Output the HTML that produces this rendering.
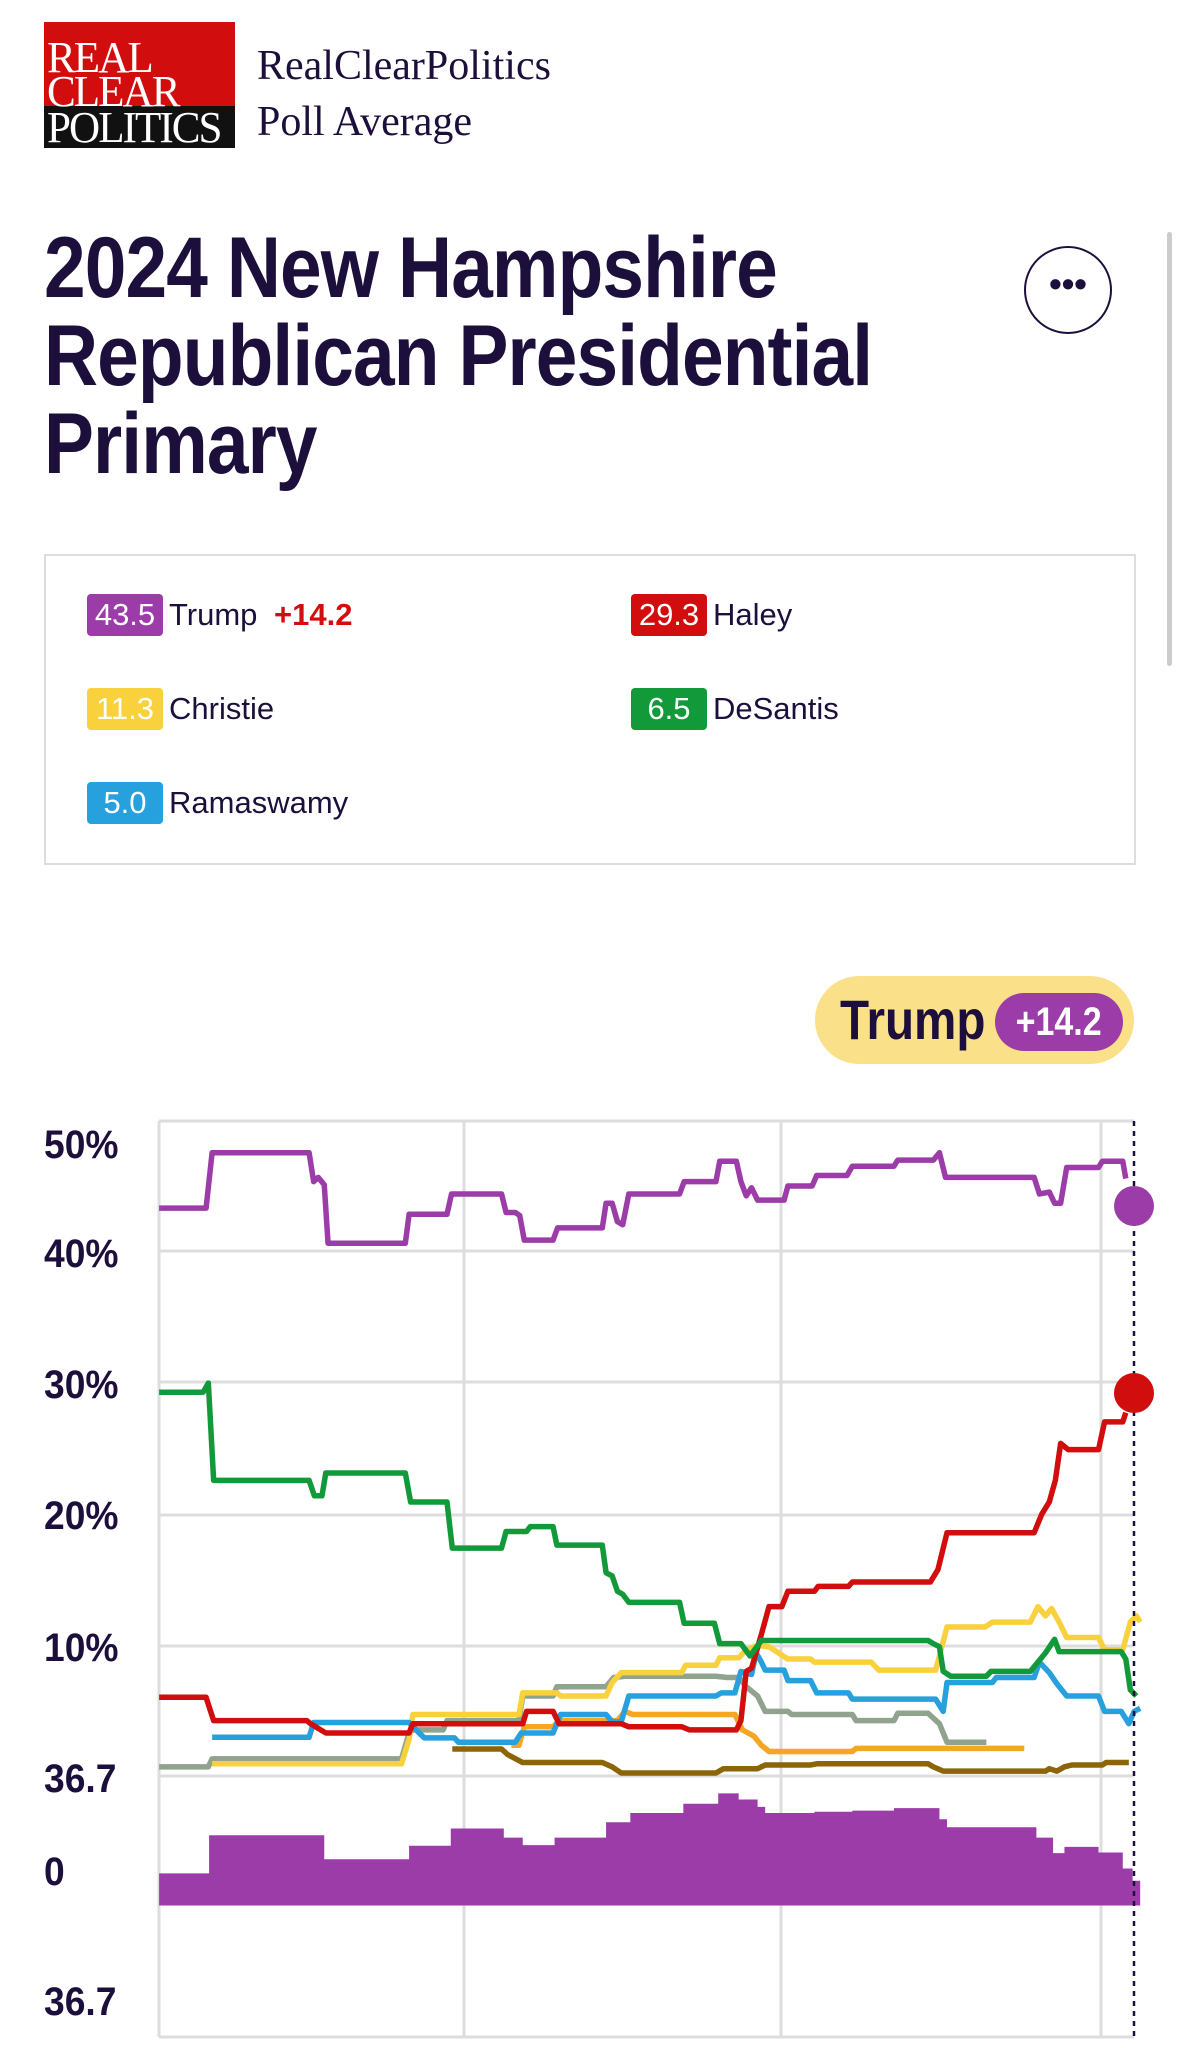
<!DOCTYPE html>
<html><head><meta charset="utf-8"><style>
body{margin:0;width:1182px;height:2048px;background:#fff;position:relative;overflow:hidden;font-family:"Liberation Sans",sans-serif;color:#1d0f3b}
.a{position:absolute;white-space:nowrap}
.logo{left:44px;top:22px;width:191px;height:126px;background:#d20d0d;overflow:hidden}
.logo .blk{position:absolute;left:0;bottom:0;width:191px;height:42px;background:#111}
.logo span{position:absolute;left:3px;font-family:"Liberation Serif",serif;font-size:44px;line-height:44px;letter-spacing:-2px;color:#fff;transform:scaleX(.98);transform-origin:left}
.serif{font-family:"Liberation Serif",serif;font-size:42px;color:#1d0f3b}
.title{left:44px;font-weight:bold;font-size:86px;line-height:88px;transform:scaleX(.87);transform-origin:left;letter-spacing:-1px}
.badge{position:absolute;height:42px;width:76px;border-radius:4px;color:#fff;font-size:31px;line-height:42px;text-align:center}
.lab{position:absolute;font-size:31px;line-height:42px}
.ax{position:absolute;left:44px;font-weight:bold;font-size:40px;transform:scaleX(.93);transform-origin:left;line-height:40px}
</style></head><body>
<div class="a logo"><div class="blk"></div><span style="top:14px">REAL</span><span style="top:48px">CLEAR</span><span style="top:84px">POLITICS</span></div>
<div class="a serif" style="left:257px;top:42px">RealClearPolitics</div>
<div class="a serif" style="left:257px;top:98px">Poll Average</div>
<div class="a title" style="top:224px">2024 New Hampshire</div>
<div class="a title" style="top:312px">Republican Presidential</div>
<div class="a title" style="top:400px">Primary</div>
<div class="a" style="left:1024px;top:246px;width:84px;height:84px;border:2px solid #1d0f3b;border-radius:50%;text-align:center;line-height:72px;font-size:36px;font-weight:bold">•••</div>
<div class="a" style="left:1167px;top:232px;width:5px;height:434px;background:#ccc;border-radius:3px"></div>
<div class="a" style="left:44px;top:554px;width:1088px;height:307px;border:2px solid #ddd"></div>
<div class="badge" style="left:87px;top:594px;background:#9b3ca8">43.5</div><div class="lab" style="left:169px;top:594px">Trump <b style="color:#d20d0d;margin-left:8px">+14.2</b></div>
<div class="badge" style="left:631px;top:594px;background:#d20d0d">29.3</div><div class="lab" style="left:713px;top:594px">Haley</div>
<div class="badge" style="left:87px;top:688px;background:#f9d13d">11.3</div><div class="lab" style="left:169px;top:688px">Christie</div>
<div class="badge" style="left:631px;top:688px;background:#129a3a">6.5</div><div class="lab" style="left:713px;top:688px">DeSantis</div>
<div class="badge" style="left:87px;top:782px;background:#27a0de">5.0</div><div class="lab" style="left:169px;top:782px">Ramaswamy</div>
<div class="a" style="left:815px;top:976px;width:319px;height:88px;border-radius:44px;background:#fbe08a"></div>
<div class="a" style="left:840px;top:990px;font-weight:bold;font-size:56px;line-height:60px;transform:scaleX(.85);transform-origin:left">Trump</div>
<div class="a" style="left:995px;top:993px;width:128px;height:58px;border-radius:29px;background:#9b3ca8;color:#fff;font-weight:bold;font-size:40px;line-height:58px;text-align:center"><span style="display:inline-block;transform:scaleX(.85)">+14.2</span></div>
<div class="ax" style="top:1125px">50%</div>
<div class="ax" style="top:1234px">40%</div>
<div class="ax" style="top:1365px">30%</div>
<div class="ax" style="top:1496px">20%</div>
<div class="ax" style="top:1628px">10%</div>
<div class="ax" style="top:1759px">36.7</div>
<div class="ax" style="top:1852px">0</div>
<div class="ax" style="top:1982px">36.7</div>
<svg class="a" style="left:0;top:0" width="1182" height="2048">
<g stroke="#ddd" stroke-width="3" fill="none">
<path d="M159 1121H1134M159 1251H1134M159 1382H1134M159 1515H1134M159 1646H1134M159 1776H1134M159 2037H1134M159 1121V2037M464 1121V2037M781 1121V2037M1101 1121V2037"/>
</g>
<g transform="matrix(0.7576,0,0,0.616,0,1080)" fill="none" stroke-width="5.5" stroke-linejoin="round">
<path fill="#9b3ca8" stroke="none" d="M210,1340V1288H276V1226H428V1265H540V1243H595V1215H665V1230H690V1242H732V1230H800V1205H832V1190H902V1175H948V1158H975V1168H1000V1180H1010V1190H1075V1188H1125V1186H1180V1182H1240V1200H1250V1213H1368V1230H1390V1255H1405V1245H1450V1254H1482V1280H1495V1300H1505V1340Z"/>
<path vector-effect="non-scaling-stroke" stroke="#8b6508" d="M597,1086 H662 L670,1095 L690,1108 H795 L808,1115 L820,1125 H945 L955,1118 H1000 L1010,1112 H1070 L1078,1110 H1225 L1232,1115 L1245,1122 H1380 L1385,1118 L1395,1122 L1405,1115 L1415,1112 H1455 L1460,1108 H1490"/>
<path vector-effect="non-scaling-stroke" stroke="#f5a623" d="M675,1080 H685 L692,1050 H730 L738,1040 H815 L825,1025 L835,1030 H970 L980,1055 L995,1065 L1005,1080 L1015,1090 H1125 L1130,1085 H1352"/>
<path vector-effect="non-scaling-stroke" stroke="#8fa38d" d="M210,1115 H275 L280,1102 H530 L540,1060 L545,1055 H585 L590,1040 H685 L690,1000 H730 L735,985 H800 L810,970 L825,968 H945 L960,970 H975 L985,985 L1000,1000 L1010,1025 H1040 L1045,1030 H1125 L1130,1040 H1180 L1185,1028 H1225 L1240,1045 L1250,1075 H1302"/>
<path vector-effect="non-scaling-stroke" stroke="#f9d13d" d="M280,1110 H530 L540,1070 L545,1030 H685 L690,995 H735 L740,1000 H800 L808,978 L820,962 H900 L905,950 H945 L950,938 H975 L985,925 L1000,918 L1015,920 L1040,940 H1070 L1075,945 H1150 L1160,958 H1235 L1240,935 L1250,888 H1300 L1310,880 H1360 L1370,855 L1380,870 L1388,858 L1398,880 L1408,905 H1450 L1458,925 H1482 L1492,880 L1500,870 L1505,880"/>
<path vector-effect="non-scaling-stroke" stroke="#27a0de" d="M280,1067 H408 L414,1043 H540 L545,1050 L560,1068 H600 L605,1075 H680 L688,1060 H730 L740,1030 H800 L808,1042 H820 L830,1000 H945 L952,995 H970 L978,960 L992,965 L998,930 L1005,945 L1010,958 H1035 L1040,975 H1070 L1078,995 H1120 L1125,1005 H1235 L1245,1025 L1250,978 H1310 L1315,970 H1365 L1372,945 L1385,962 L1395,980 L1408,1000 H1450 L1458,1025 H1480 L1490,1045 L1497,1025 L1505,1020"/>
<path vector-effect="non-scaling-stroke" stroke="#d20d0d" d="M210,1002 H272 L282,1040 H405 L410,1045 L430,1060 H540 L545,1045 H690 L695,1025 H730 L738,1045 H820 L830,1050 H900 L910,1055 H972 L978,1040 L985,960 L992,955 L1005,900 L1015,855 H1032 L1040,830 H1075 L1080,822 H1120 L1125,815 H1228 L1238,795 L1250,735 H1365 L1375,705 L1385,685 L1393,650 L1400,590 L1410,600 H1450 L1458,555 H1482 L1486,540"/>
<path vector-effect="non-scaling-stroke" stroke="#129a3a" d="M210,507 H268 L275,492 L282,650 H408 L415,675 H425 L430,638 H535 L542,685 H590 L597,760 H662 L668,733 H695 L700,725 H730 L735,755 H795 L800,800 L808,805 L815,830 L822,835 L830,848 H897 L903,882 H943 L950,915 H978 L990,935 L1005,910 H1225 L1232,915 L1240,920 L1245,960 L1255,968 H1302 L1308,960 H1360 L1380,930 L1392,908 L1398,928 H1480 L1486,940 L1492,990 L1500,1000"/>
<path vector-effect="non-scaling-stroke" stroke="#9b3ca8" d="M210,208 H272 L280,118 H408 L414,165 L420,158 L428,170 L433,265 H535 L540,218 H590 L596,185 H662 L668,215 H680 L686,220 L692,260 H730 L736,240 H795 L800,200 L808,200 L815,230 L822,235 L830,185 H897 L903,165 H945 L950,132 H972 L978,165 L985,188 L992,175 L1000,195 H1035 L1040,172 H1072 L1078,155 H1118 L1125,140 H1180 L1185,130 H1232 L1240,118 L1248,158 H1365 L1372,185 L1385,182 L1392,200 H1400 L1408,142 H1450 L1455,132 H1482 L1486,160"/>
</g>
<path d="M1134 1121V2040" stroke="#1d0f3b" stroke-width="2.5" stroke-dasharray="5,5"/>
<circle cx="1134" cy="1206" r="20" fill="#9b3ca8"/>
<circle cx="1134" cy="1393" r="20" fill="#d20d0d"/>
</svg>
</body></html>
